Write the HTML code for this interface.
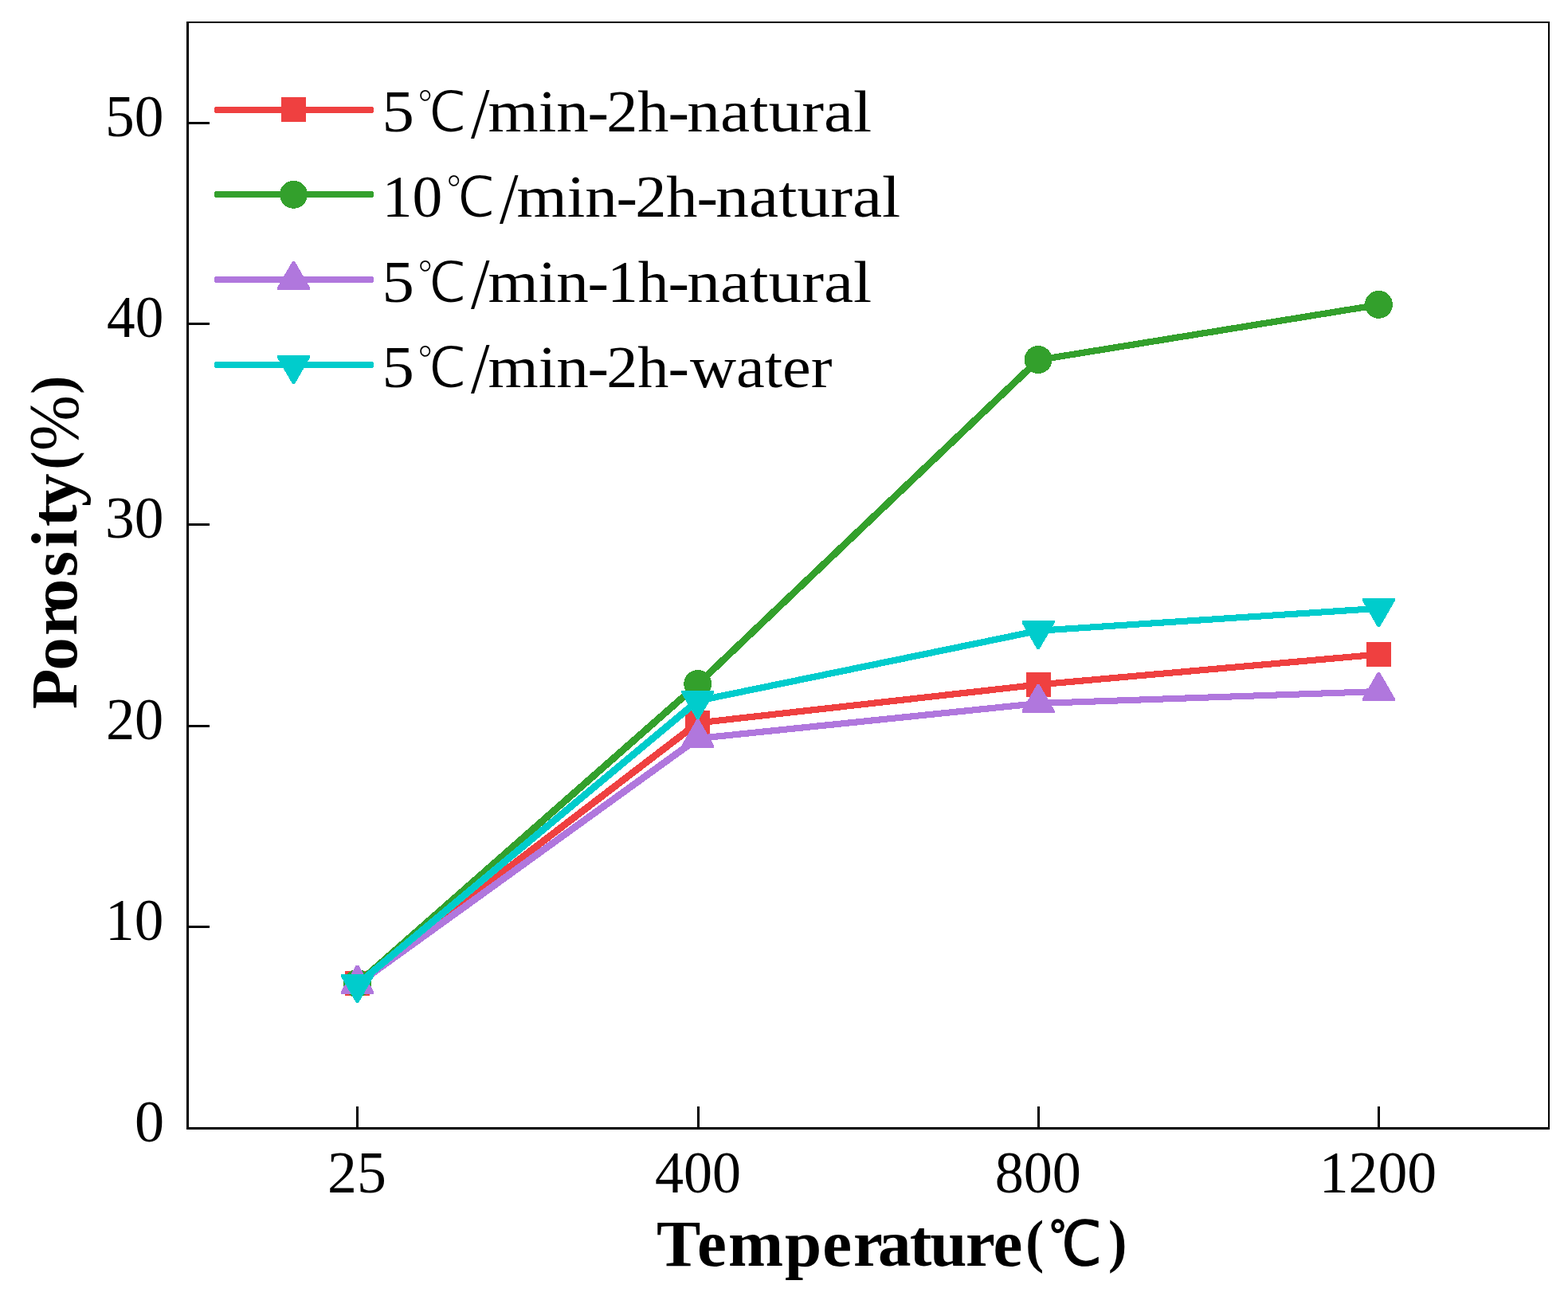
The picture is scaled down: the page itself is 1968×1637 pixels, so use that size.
<!DOCTYPE html>
<html lang="en">
<head>
<meta charset="utf-8">
<title>Porosity(%) - Temperature(℃)</title>
<style>
html,body{margin:0;padding:0;background:#fff;}
body{width:1968px;height:1637px;}
svg{display:block;}
text{font-family:"Liberation Serif","WenQuanYi Zen Hei","Noto Sans CJK SC",serif;fill:#000;}
.b{font-weight:bold;}
</style>
</head>
<body>
<svg width="1968" height="1637" viewBox="0 0 1968 1637">
<desc>Porosity(%) versus Temperature(℃): 5℃/min-2h-natural, 10℃/min-2h-natural, 5℃/min-1h-natural, 5℃/min-2h-water</desc>
<rect width="1968" height="1637" fill="#fff"/>

<g id="series" shape-rendering="crispEdges">
<line x1="448.5" y1="1234.5" x2="875.8" y2="907.5" stroke="#EF4040" stroke-width="8.73" stroke-linecap="round"/>
<line x1="875.8" y1="907.5" x2="1303.1" y2="859.5" stroke="#EF4040" stroke-width="8.13" stroke-linecap="round"/>
<line x1="1303.1" y1="859.5" x2="1730.4" y2="821.5" stroke="#EF4040" stroke-width="8.11" stroke-linecap="round"/>
<rect x="433.0" y="1219.0" width="31" height="31" fill="#EF4040"/>
<rect x="860.3" y="892.0" width="31" height="31" fill="#EF4040"/>
<rect x="1287.6" y="844.0" width="31" height="31" fill="#EF4040"/>
<rect x="1714.9" y="806.0" width="31" height="31" fill="#EF4040"/>
<line x1="448.5" y1="1234.9" x2="875.8" y2="858.9" stroke="#33A02C" stroke-width="8.79" stroke-linecap="round"/>
<line x1="875.8" y1="858.9" x2="1303.1" y2="451.9" stroke="#33A02C" stroke-width="8.83" stroke-linecap="round"/>
<line x1="1303.1" y1="451.9" x2="1730.4" y2="382.7" stroke="#33A02C" stroke-width="8.19" stroke-linecap="round"/>
<circle cx="448.5" cy="1234.5" r="17.5" fill="#33A02C"/>
<circle cx="875.8" cy="858.5" r="17.5" fill="#33A02C"/>
<circle cx="1303.1" cy="451.5" r="17.5" fill="#33A02C"/>
<circle cx="1730.4" cy="382.3" r="17.5" fill="#33A02C"/>
<line x1="448.5" y1="1235.5" x2="875.8" y2="927.0" stroke="#B077DD" stroke-width="8.70" stroke-linecap="round"/>
<line x1="875.8" y1="927.0" x2="1303.1" y2="883.0" stroke="#B077DD" stroke-width="8.12" stroke-linecap="round"/>
<line x1="1303.1" y1="883.0" x2="1730.4" y2="868.0" stroke="#B077DD" stroke-width="8.04" stroke-linecap="round"/>
<polygon points="447.0,1211.5 450.0,1211.5 469.0,1244.5 469.0,1247.5 428.0,1247.5 428.0,1244.5" fill="#B077DD"/>
<polygon points="874.3,903.0 877.3,903.0 896.3,936.0 896.3,939.0 855.3,939.0 855.3,936.0" fill="#B077DD"/>
<polygon points="1301.6,859.0 1304.6,859.0 1323.6,892.0 1323.6,895.0 1282.6,895.0 1282.6,892.0" fill="#B077DD"/>
<polygon points="1728.9,844.0 1731.9,844.0 1750.9,877.0 1750.9,880.0 1709.9,880.0 1709.9,877.0" fill="#B077DD"/>
<line x1="448.5" y1="1235.8" x2="875.8" y2="879.8" stroke="#00CCCC" stroke-width="8.77" stroke-linecap="round"/>
<line x1="875.8" y1="879.8" x2="1303.1" y2="791.8" stroke="#00CCCC" stroke-width="8.24" stroke-linecap="round"/>
<line x1="1303.1" y1="791.8" x2="1730.4" y2="763.8" stroke="#00CCCC" stroke-width="8.08" stroke-linecap="round"/>
<polygon points="428.0,1223.0 469.0,1223.0 469.0,1226.0 450.0,1259.0 447.0,1259.0 428.0,1226.0" fill="#00CCCC"/>
<polygon points="855.3,867.0 896.3,867.0 896.3,870.0 877.3,903.0 874.3,903.0 855.3,870.0" fill="#00CCCC"/>
<polygon points="1282.6,779.0 1323.6,779.0 1323.6,782.0 1304.6,815.0 1301.6,815.0 1282.6,782.0" fill="#00CCCC"/>
<polygon points="1709.9,751.0 1750.9,751.0 1750.9,754.0 1731.9,787.0 1728.9,787.0 1709.9,754.0" fill="#00CCCC"/>
</g>
<g id="axes" fill="#000" shape-rendering="crispEdges">
<rect x="234" y="27" width="3" height="1391"/>
<rect x="234" y="1415" width="1711" height="3"/>
<rect x="234" y="27" width="1711" height="2"/>
<rect x="1943" y="27" width="2" height="1391"/>
<rect x="237" y="153" width="26" height="3"/>
<rect x="237" y="405" width="26" height="3"/>
<rect x="237" y="657" width="26" height="3"/>
<rect x="237" y="910" width="26" height="3"/>
<rect x="237" y="1162" width="26" height="3"/>
<rect x="447" y="1389" width="3" height="26"/>
<rect x="875" y="1389" width="3" height="26"/>
<rect x="1302" y="1389" width="3" height="26"/>
<rect x="1729" y="1389" width="3" height="26"/>
</g>
<g id="ticklabels" font-size="74.5">
<text><tspan x="131.91" y="171.10" textLength="73.46" lengthAdjust="spacingAndGlyphs" font-size="74.5">50</tspan></text>
<text><tspan x="134.04" y="423.10" textLength="71.25" lengthAdjust="spacingAndGlyphs" font-size="74.5">40</tspan></text>
<text><tspan x="131.91" y="675.10" textLength="73.46" lengthAdjust="spacingAndGlyphs" font-size="74.5">30</tspan></text>
<text><tspan x="132.93" y="928.10" textLength="72.39" lengthAdjust="spacingAndGlyphs" font-size="74.5">20</tspan></text>
<text><tspan x="132.01" y="1180.10" textLength="73.35" lengthAdjust="spacingAndGlyphs" font-size="74.5">10</tspan></text>
<text><tspan x="169.01" y="1433.10" textLength="37.13" lengthAdjust="spacingAndGlyphs" font-size="74.5">0</tspan></text>
<text><tspan x="411.03" y="1497.10" textLength="73.74" lengthAdjust="spacingAndGlyphs" font-size="74.5">25</tspan></text>
<text><tspan x="821.93" y="1497.10" textLength="108.13" lengthAdjust="spacingAndGlyphs" font-size="74.5">400</tspan></text>
<text><tspan x="1248.69" y="1497.10" textLength="108.22" lengthAdjust="spacingAndGlyphs" font-size="74.5">800</tspan></text>
<text><tspan x="1655.78" y="1497.10" textLength="147.39" lengthAdjust="spacingAndGlyphs" font-size="74.5">1200</tspan></text>
</g>
<g id="legend">
<g shape-rendering="crispEdges">
<polygon points="270.4,134 467.6,134 469,135.4 469,140.6 467.6,142 270.4,142 269,140.6 269,135.4" fill="#EF4040"/>
<rect x="353.0" y="122.0" width="31" height="31" fill="#EF4040"/>
<polygon points="270.4,240 467.6,240 469,241.4 469,246.6 467.6,248 270.4,248 269,246.6 269,241.4" fill="#33A02C"/>
<circle cx="368.5" cy="244.3" r="17.5" fill="#33A02C"/>
<polygon points="270.4,347 467.6,347 469,348.4 469,353.6 467.6,355 270.4,355 269,353.6 269,348.4" fill="#B077DD"/>
<polygon points="367.0,328.0 370.0,328.0 389.0,361.0 389.0,364.0 348.0,364.0 348.0,361.0" fill="#B077DD"/>
<polygon points="270.4,454 467.6,454 469,455.4 469,460.6 467.6,462 270.4,462 269,460.6 269,455.4" fill="#00CCCC"/>
<polygon points="348.0,446.0 389.0,446.0 389.0,449.0 370.0,482.0 367.0,482.0 348.0,449.0" fill="#00CCCC"/>
</g>
<text font-size="74.5"><tspan x="479.47" y="164.80" textLength="40.35" lengthAdjust="spacingAndGlyphs" font-size="74.5">5</tspan><tspan x="523.24" y="165.00" textLength="61.81" lengthAdjust="spacingAndGlyphs" font-size="71.3" font-family="'Liberation Serif', 'WenQuanYi Zen Hei', 'Noto Sans CJK SC', sans-serif" stroke="#fff" stroke-width="1.6" font-weight="normal">℃</tspan><tspan x="591.00" y="172.70" textLength="23.52" lengthAdjust="spacingAndGlyphs" font-size="92">/</tspan><tspan x="612.52" y="164.80" textLength="126.47" lengthAdjust="spacingAndGlyphs" font-size="74.5">min</tspan><tspan x="737.49" y="164.80" textLength="26.51" lengthAdjust="spacingAndGlyphs" font-size="74.5">-</tspan><tspan x="761.15" y="164.80" textLength="78.28" lengthAdjust="spacingAndGlyphs" font-size="74.5">2h</tspan><tspan x="838.59" y="164.80" textLength="26.51" lengthAdjust="spacingAndGlyphs" font-size="74.5">-</tspan><tspan x="862.36" y="164.80" textLength="231.91" lengthAdjust="spacingAndGlyphs" font-size="74.5">natural</tspan></text>
<text font-size="74.5"><tspan x="479.70" y="271.70" textLength="75.53" lengthAdjust="spacingAndGlyphs" font-size="74.5">10</tspan><tspan x="559.24" y="271.90" textLength="61.81" lengthAdjust="spacingAndGlyphs" font-size="71.3" font-family="'Liberation Serif', 'WenQuanYi Zen Hei', 'Noto Sans CJK SC', sans-serif" stroke="#fff" stroke-width="1.6" font-weight="normal">℃</tspan><tspan x="627.00" y="279.60" textLength="23.52" lengthAdjust="spacingAndGlyphs" font-size="92">/</tspan><tspan x="648.52" y="271.70" textLength="126.47" lengthAdjust="spacingAndGlyphs" font-size="74.5">min</tspan><tspan x="773.49" y="271.70" textLength="26.51" lengthAdjust="spacingAndGlyphs" font-size="74.5">-</tspan><tspan x="797.15" y="271.70" textLength="78.28" lengthAdjust="spacingAndGlyphs" font-size="74.5">2h</tspan><tspan x="874.59" y="271.70" textLength="26.51" lengthAdjust="spacingAndGlyphs" font-size="74.5">-</tspan><tspan x="898.36" y="271.70" textLength="231.91" lengthAdjust="spacingAndGlyphs" font-size="74.5">natural</tspan></text>
<text font-size="74.5"><tspan x="479.47" y="378.60" textLength="40.35" lengthAdjust="spacingAndGlyphs" font-size="74.5">5</tspan><tspan x="523.24" y="378.80" textLength="61.81" lengthAdjust="spacingAndGlyphs" font-size="71.3" font-family="'Liberation Serif', 'WenQuanYi Zen Hei', 'Noto Sans CJK SC', sans-serif" stroke="#fff" stroke-width="1.6" font-weight="normal">℃</tspan><tspan x="591.00" y="386.50" textLength="23.52" lengthAdjust="spacingAndGlyphs" font-size="92">/</tspan><tspan x="612.52" y="378.60" textLength="126.47" lengthAdjust="spacingAndGlyphs" font-size="74.5">min</tspan><tspan x="737.49" y="378.60" textLength="26.51" lengthAdjust="spacingAndGlyphs" font-size="74.5">-</tspan><tspan x="762.25" y="378.60" textLength="77.17" lengthAdjust="spacingAndGlyphs" font-size="74.5">1h</tspan><tspan x="838.59" y="378.60" textLength="26.51" lengthAdjust="spacingAndGlyphs" font-size="74.5">-</tspan><tspan x="862.36" y="378.60" textLength="231.91" lengthAdjust="spacingAndGlyphs" font-size="74.5">natural</tspan></text>
<text font-size="74.5"><tspan x="479.47" y="485.50" textLength="40.35" lengthAdjust="spacingAndGlyphs" font-size="74.5">5</tspan><tspan x="523.24" y="485.70" textLength="61.81" lengthAdjust="spacingAndGlyphs" font-size="71.3" font-family="'Liberation Serif', 'WenQuanYi Zen Hei', 'Noto Sans CJK SC', sans-serif" stroke="#fff" stroke-width="1.6" font-weight="normal">℃</tspan><tspan x="591.00" y="493.40" textLength="23.52" lengthAdjust="spacingAndGlyphs" font-size="92">/</tspan><tspan x="612.52" y="485.50" textLength="126.47" lengthAdjust="spacingAndGlyphs" font-size="74.5">min</tspan><tspan x="737.49" y="485.50" textLength="26.51" lengthAdjust="spacingAndGlyphs" font-size="74.5">-</tspan><tspan x="761.15" y="485.50" textLength="78.28" lengthAdjust="spacingAndGlyphs" font-size="74.5">2h</tspan><tspan x="838.59" y="485.50" textLength="26.51" lengthAdjust="spacingAndGlyphs" font-size="74.5">-</tspan><tspan x="866.00" y="485.50" textLength="178.49" lengthAdjust="spacingAndGlyphs" font-size="74.5">water</tspan></text>
</g>
<text class="b" font-size="83"><tspan x="824.1 875.0 914.0 985.1 1032.2 1071.0 1102.1 1141.8 1167.2 1212.0 1246.4" y="1589.20">Temperature</tspan><tspan x="1287.22" y="1582.80" textLength="22.90" lengthAdjust="spacingAndGlyphs" font-size="74.2">(</tspan><tspan x="1316.54" y="1588.00" textLength="65.65" lengthAdjust="spacingAndGlyphs" font-size="77.4" font-family="'Liberation Serif', 'WenQuanYi Zen Hei', 'Noto Sans CJK SC', sans-serif" stroke="#000" stroke-width="1" stroke-linejoin="round" font-weight="normal">℃</tspan><tspan x="1391.11" y="1582.80" textLength="23.42" lengthAdjust="spacingAndGlyphs" font-size="74.2">)</tspan></text>
<text class="b" font-size="83" transform="translate(96,0) rotate(-90)"><tspan x="-890.3 -841.7 -798.1 -768.3 -724.3 -687.4 -661.0 -636.1" y="0.00">Porosity</tspan><tspan x="-589.48" y="-6.00" textLength="22.96" lengthAdjust="spacingAndGlyphs" font-size="74.4">(</tspan><tspan x="-566.06" y="1.00" textLength="69.89" lengthAdjust="spacingAndGlyphs" font-size="88.1" font-weight="normal">%</tspan><tspan x="-494.65" y="-6.00" textLength="22.96" lengthAdjust="spacingAndGlyphs" font-size="74.4">)</tspan></text>
</svg>
</body>
</html>
